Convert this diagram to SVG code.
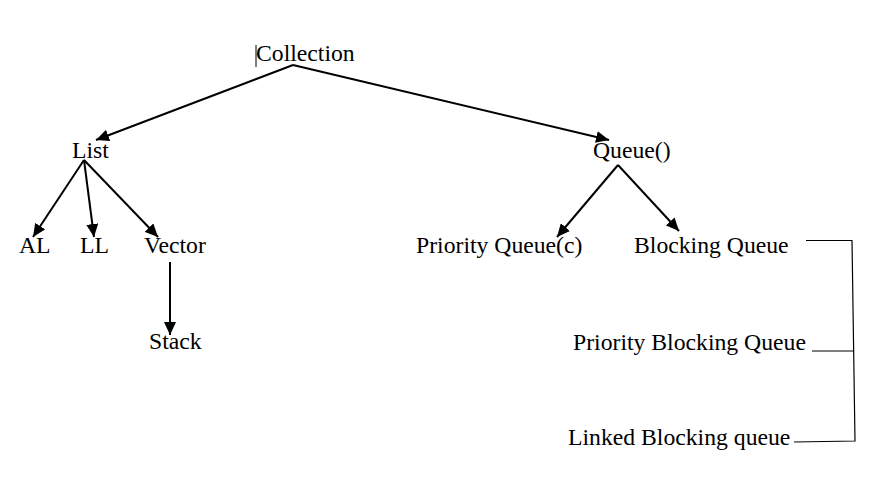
<svg xmlns="http://www.w3.org/2000/svg" width="870" height="479" viewBox="0 0 870 479">
<style>
text{font-family:"Liberation Serif","Times New Roman",serif;font-size:23.7px;fill:#000}
.c{stroke:#000;stroke-width:2;fill:none;marker-end:url(#ah)}
.b{stroke:#000;stroke-width:1.2;fill:none}
</style>
<defs>
<marker id="ah" markerUnits="userSpaceOnUse" markerWidth="14" markerHeight="12" refX="13" refY="6" orient="auto">
<path d="M0,0 L13,6 L0,12 Z" fill="#000"/>
</marker>
</defs>
<rect width="870" height="479" fill="#fff"/>
<g id="connectors">
<line class="c" x1="293" y1="65" x2="96" y2="140"/>
<line class="c" x1="293" y1="65" x2="609" y2="140"/>
<line class="c" x1="84" y1="160" x2="33" y2="237"/>
<line class="c" x1="84" y1="160" x2="94" y2="237"/>
<line class="c" x1="84" y1="160" x2="158" y2="237"/>
<line class="c" x1="170" y1="262" x2="170" y2="335"/>
<line class="c" x1="618" y1="165" x2="557" y2="237"/>
<line class="c" x1="618" y1="165" x2="679" y2="231"/>
<polyline class="b" points="806,240.5 852,240.5 855,441 794,442"/>
<line class="b" x1="812" y1="351" x2="854" y2="351"/>
</g>
<g id="cursor"><line x1="256" y1="45" x2="256" y2="67" stroke="#000" stroke-width="1"/></g>
<g id="collection"><text x="256" y="61">Collection</text></g>
<g id="list"><text x="72" y="158">List</text></g>
<g id="queue"><text x="593" y="158">Queue()</text></g>
<g id="al"><text x="19" y="253">AL</text></g>
<g id="ll"><text x="80" y="253">LL</text></g>
<g id="vector"><text x="144" y="253">Vector</text></g>
<g id="stack"><text x="149" y="349">Stack</text></g>
<g id="priority-queue"><text x="416" y="253">Priority Queue(c)</text></g>
<g id="blocking-queue"><text x="634" y="253">Blocking Queue</text></g>
<g id="priority-blocking-queue"><text x="573" y="350">Priority Blocking Queue</text></g>
<g id="linked-blocking-queue"><text x="568" y="445">Linked Blocking queue</text></g>
</svg>
